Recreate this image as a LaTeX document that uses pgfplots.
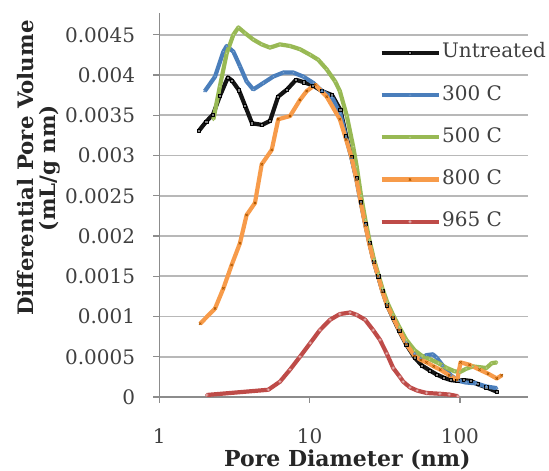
\documentclass[border=0pt]{standalone}
\usepackage{fontspec}
\setmainfont{DejaVu Serif}
\usepackage{pgfplots}
\pgfplotsset{compat=1.18}
\definecolor{cblack}{HTML}{141414}
\definecolor{cblue}{HTML}{4A7EBB}
\definecolor{cgreen}{HTML}{98B954}
\definecolor{corange}{HTML}{F79B4A}
\definecolor{cred}{HTML}{BE4B48}
\definecolor{gridgray}{HTML}{B8B8B8}
\definecolor{axgray}{HTML}{8C8C8C}
\definecolor{txt}{HTML}{404040}
\begin{document}
\fontsize{20}{24}\selectfont
\begin{tikzpicture}
\begin{axis}[
  scale only axis, width=368.7pt, height=384pt,
  xmode=log, xmin=1, xmax=284, ymin=0, ymax=0.00477,
  scaled y ticks=false,
  axis lines=left, axis line style={-, draw=axgray, line width=1.3pt},
  xtick={1,10,100}, xticklabels={\textrm{1},\textrm{10},\textrm{100}}, xminorticks=false,
  ytick={0,0.0005,0.001,0.0015,0.002,0.0025,0.003,0.0035,0.004,0.0045},
  yticklabels={\textrm{0},\textrm{0.0005},\textrm{0.001},\textrm{0.0015},\textrm{0.002},\textrm{0.0025},\textrm{0.003},\textrm{0.0035},\textrm{0.004},\textrm{0.0045}},
  ymajorgrids, grid style={draw=gridgray, line width=1.6pt},
  tick align=outside, major tick length=6pt,
  tick style={draw=axgray, line width=1.3pt},
  ticklabel style={font=\fontsize{20}{24}\selectfont, text=txt},
  yticklabel style={anchor=east, inner sep=0pt, xshift=-18pt},
  xticklabel style={anchor=north, inner sep=0pt, yshift=-25pt},
  xlabel={Pore Diameter (nm)},
  xlabel style={at={(axis description cs:0.51,0)}, anchor=base, yshift=-70pt, inner sep=0pt, font=\bfseries\fontsize{22}{24}\selectfont, text=black!85},
  ylabel={Differential Pore Volume\\(mL/g nm)},
  ylabel style={at={(axis description cs:-0.3276,0.596)}, anchor=center, align=center, inner sep=0pt, font=\bfseries\fontsize{21.3}{22}\selectfont, text=black!85},
  legend cell align=left,
  legend style={at={(axis description cs:0.597,0.9219)}, anchor=north west, draw=none, fill=none, inner sep=0pt, outer sep=0pt, row sep=22.2pt, column sep=1.5pt, font=\fontsize{20}{24}\selectfont, text=txt, nodes={inner sep=0pt, text height=15pt, text depth=5pt}},
  legend image code/.code={\draw[#1, mark=none] (0pt,0pt) -- (57pt,0pt); \draw[#1, only marks] plot coordinates {(28.5pt,0pt)};},
  every axis plot/.append style={line width=4.2pt, line join=round, mark size=1.6pt},
]
\addplot[cblack, mark=square*, mark options={fill=gray, draw=black, line width=0.5pt}] coordinates {
(1.84,0.00331)(2.05,0.00342)(2.28,0.00351)(2.53,0.00374)(2.86,0.00397)(3.05,0.00393)(3.39,0.00381)(3.72,0.00362)(4.14,0.00340)(4.83,0.00338)(5.46,0.00343)(6.17,0.00373)(7.08,0.00382)(8.12,0.00394)(9.18,0.00391)(10.5,0.00387)(12.1,0.00380)(14.1,0.00375)(16.0,0.00357)(17.5,0.00325)(19.0,0.00298)(20.5,0.00272)(22.0,0.00242)(23.5,0.00215)(25.0,0.00192)(26.8,0.00168)(28.6,0.00150)(30.5,0.00132)(32.8,0.00114)(35.9,0.00098)(39.5,0.00082)(44,0.00065)(50,0.00049)(56,0.00039)(63,0.00033)(70,0.00028)(78,0.00024)(87,0.00021)(96,0.00020)(106,0.00021)(118,0.00020)(131,0.00016)(150,0.00012)(176,0.000066)};
\addlegendentry{Untreated}
\addplot[cblue, mark=triangle*, mark options={fill=cblue!60!white, draw=cblue, line width=0.5pt}] coordinates {
(2.01,0.00380)(2.35,0.00398)(2.67,0.00429)(2.81,0.00436)(3.11,0.00429)(3.44,0.00411)(3.81,0.00392)(4.22,0.00382)(4.92,0.00390)(5.73,0.00398)(6.68,0.00403)(7.79,0.00403)(9.08,0.00398)(10.6,0.00390)(12.1,0.00380)(14.1,0.00372)(16.0,0.00352)(17.5,0.00322)(19.0,0.00297)(20.5,0.00270)(22.0,0.00240)(23.5,0.00214)(25.0,0.00191)(26.8,0.00168)(28.6,0.00150)(30.5,0.00132)(32.8,0.00115)(35.9,0.00100)(39.5,0.00084)(44,0.00068)(50,0.00054)(55,0.00048)(60,0.00052)(66,0.00053)(70,0.00049)(77,0.00039)(87,0.00027)(98,0.00020)(110,0.00018)(128,0.00017)(150,0.00013)(176,0.00011)};
\addlegendentry{300 C}
\addplot[cgreen, mark=diamond*, mark options={fill=cgreen!60!white, draw=cgreen, line width=0.5pt}] coordinates {
(2.29,0.00345)(2.53,0.00386)(2.81,0.00427)(3.11,0.00450)(3.36,0.00459)(3.72,0.00452)(4.22,0.00444)(4.80,0.00438)(5.45,0.00434)(6.35,0.00438)(7.41,0.00436)(8.63,0.00432)(10.1,0.00425)(11.4,0.00419)(13.0,0.00407)(14.8,0.00392)(15.9,0.00380)(17.7,0.00349)(19.5,0.00311)(20.6,0.00286)(22.0,0.00250)(23.5,0.00220)(25.0,0.00195)(26.8,0.00171)(28.6,0.00153)(30.5,0.00135)(32.8,0.00118)(35.9,0.00102)(39.5,0.00087)(44,0.00071)(50,0.00058)(56,0.00051)(63,0.00047)(72,0.00042)(82,0.00036)(92,0.00032)(100,0.00031)(110,0.00035)(122,0.00038)(136,0.00037)(150,0.00036)(163,0.00042)(176,0.00043)};
\addlegendentry{500 C}
\addplot[corange, mark=x, mark options={draw=orange!70!black, line width=0.8pt}] coordinates {
(1.87,0.00091)(2.35,0.00110)(2.67,0.00135)(3.03,0.00164)(3.44,0.00191)(3.81,0.00226)(4.33,0.00241)(4.80,0.00289)(5.60,0.00307)(6.19,0.00345)(7.41,0.00349)(8.63,0.00369)(9.57,0.00380)(10.9,0.00388)(13.0,0.00373)(15.9,0.00345)(17.5,0.00320)(19.0,0.00298)(20.5,0.00270)(22.0,0.00240)(23.5,0.00213)(25.0,0.00190)(26.8,0.00167)(28.6,0.00150)(30.5,0.00131)(32.8,0.00114)(35.9,0.00099)(39.5,0.00083)(44,0.00066)(50,0.00051)(55,0.00046)(60,0.00043)(67,0.00038)(74,0.00034)(85,0.00027)(96,0.00021)(101,0.00043)(116,0.00040)(135,0.00034)(154,0.00029)(176,0.00023)(190,0.00027)};
\addlegendentry{800 C}
\addplot[cred, mark=*, mark options={fill=cred!40!white, draw=cred!80!white, line width=0.5pt}] coordinates {
(2.07,0.000025)(5.31,0.00009)(6.35,0.00019)(7.41,0.00034)(8.63,0.00050)(10.1,0.00067)(11.7,0.00083)(13.7,0.00096)(15.9,0.00103)(18.6,0.00105)(20.6,0.00102)(23.4,0.00096)(26.5,0.00083)(29.4,0.00071)(32.6,0.00054)(36.0,0.00036)(39.9,0.00025)(42,0.00019)(46.5,0.00012)(52,0.00008)(60,0.00005)(73.7,0.00004)(85,0.00003)(97,0.00001)};
\addlegendentry{965 C}
\end{axis}
\pgfresetboundingbox
\useasboundingbox (-159.3pt,-74pt) rectangle (389.7pt,397pt);
\end{tikzpicture}
\end{document}
